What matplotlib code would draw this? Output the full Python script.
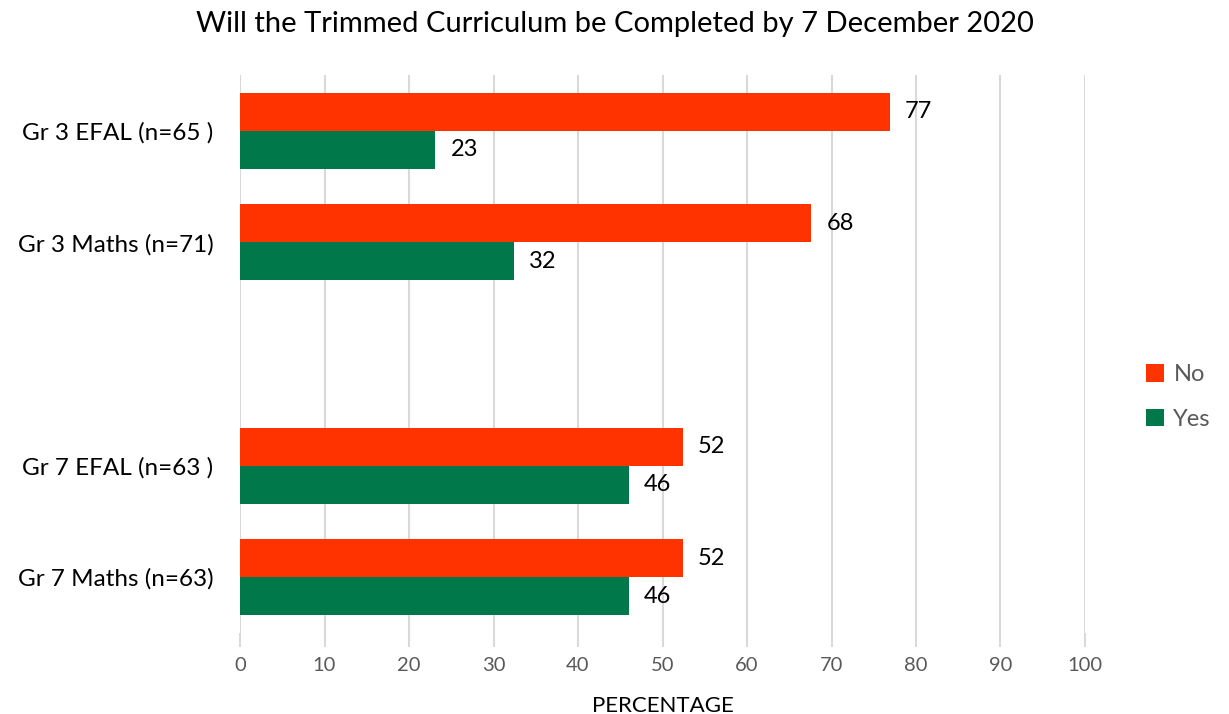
import matplotlib.pyplot as plt
import numpy as np

plt.rcParams['font.family'] = ['Lato', 'DejaVu Sans']

categories = ["Gr 3 EFAL (n=65 )", "Gr 3 Maths (n=71)", "", "Gr 7 EFAL (n=63 )", "Gr 7 Maths (n=63)"]
no_vals = [76.9, 67.6, None, 52.4, 52.4]
yes_vals = [23.1, 32.4, None, 46.0, 46.0]
x_ticks = [0, 10, 20, 30, 40, 50, 60, 70, 80, 90, 100]

c_no = "#FF3300"
c_yes = "#00784A"
grid_c = "#D9D9D9"

fig = plt.figure(figsize=(12.29, 7.14), dpi=100)
ax = fig.add_axes([240 / 1229, 1 - 633 / 714, 845 / 1229, 558 / 714])

pos = np.arange(len(categories))
h = 0.34
idx = [i for i, v in enumerate(no_vals) if v is not None]
no_b = ax.barh(pos[idx] - h / 2, [no_vals[i] for i in idx], height=h, color=c_no, label="No", zorder=3)
yes_b = ax.barh(pos[idx] + h / 2, [yes_vals[i] for i in idx], height=h, color=c_yes, label="Yes", zorder=3)

for bars in (no_b, yes_b):
    ax.bar_label(bars, labels=["%d" % round(b.get_width()) for b in bars],
                 padding=11, fontsize=17, color="#000000")

ax.set_xlim(0, 100)
ax.set_ylim(len(categories) - 0.5, -0.5)
ax.set_xticks(x_ticks)
ax.set_yticks(pos)
ax.set_yticklabels(categories, fontsize=17.5)
ax.tick_params(axis='y', length=0, pad=19)
ax.tick_params(axis='x', length=10, width=1.5, color=grid_c, labelsize=14.5, labelcolor="#595959", pad=7)
ax.xaxis.grid(True, color=grid_c, linewidth=1.5, zorder=0)
for s in ax.spines.values():
    s.set_visible(False)

ax.set_xlabel("PERCENTAGE", fontsize=16, labelpad=16)
fig.suptitle("Will the Trimmed Curriculum be Completed by 7 December 2020", fontsize=21, y=0.985)

leg = fig.legend(handles=[no_b, yes_b], labels=["No", "Yes"], loc="center left",
                 bbox_to_anchor=(1125 / 1229, 1 - 397 / 714), frameon=False, fontsize=17,
                 handlelength=0.75, handleheight=0.75, handletextpad=0.4, labelspacing=1.0)
for t in leg.get_texts():
    t.set_color("#595959")

fig.savefig("out.png", dpi=100)
